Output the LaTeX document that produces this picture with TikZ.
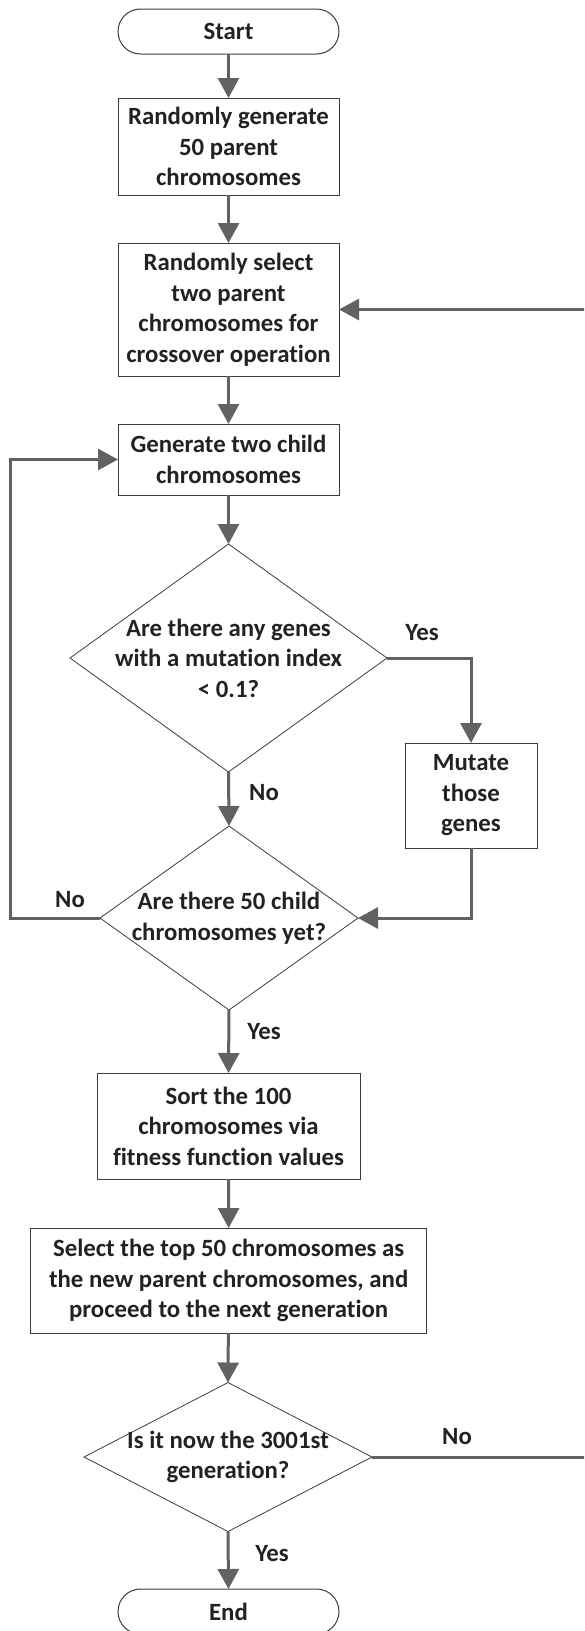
\documentclass[tikz,border=0pt]{standalone}
\usepackage{fontspec}
\setmainfont{Carlito}[Ligatures=NoCommon]
\usetikzlibrary{arrows.meta,shapes.geometric}
\definecolor{flowgray}{RGB}{98,98,98}
\definecolor{inkgray}{RGB}{34,34,34}
\definecolor{edgegray}{RGB}{60,60,60}

\begin{document}
\begin{tikzpicture}[x=1pt,y=-1pt,
  every node/.style={font=\fontsize{24.8}{30.5}\selectfont\bfseries, text=inkgray},
  procbox/.style={draw=edgegray, line width=1pt, align=center, inner sep=0pt, outer sep=0pt},
  termbox/.style={draw=edgegray, line width=1pt, rounded corners=22.5pt,
    minimum width=221pt, minimum height=45pt, inner sep=0pt, outer sep=0pt},
  decision/.style={draw=edgegray, line width=0.8pt, diamond, inner sep=0pt, outer sep=0pt},
  flow/.style={draw=flowgray, line width=3pt, -{Triangle[length=20pt,width=21pt]}},
  lab/.style={inner sep=0pt, align=center}
]
\useasboundingbox (0,0) rectangle (584,1631);
\clip (0,0) rectangle (584,1631);

% main column
\node[termbox] (start) at (228.5,31.5) {Start};
\node[procbox, minimum width=221pt, minimum height=97pt] (init) at (228.5,146.5)
  {Randomly generate\\50 parent\\chromosomes};
\node[procbox, minimum width=221pt, minimum height=133pt] (pick) at (228.5,309.5)
  {Randomly select\\two parent\\chromosomes for\\crossover operation};
\node[procbox, minimum width=221pt, minimum height=71pt] (child) at (228.5,459.5)
  {Generate two child\\chromosomes};
\node[decision, minimum width=317pt, minimum height=228pt] (mut) at (228.5,658) {};
\node[lab] (mutt) at (mut.center) {Are there any genes\\with a mutation index\\< 0.1?};
\node[procbox, minimum width=132pt, minimum height=105pt] (mutate) at (471,795.5)
  {Mutate\\those\\genes};
\node[decision, minimum width=258pt, minimum height=184pt] (enough) at (229,918) {};
\node[lab] (enought) at (enough.center) {Are there 50 child\\chromosomes yet?};
\node[procbox, minimum width=263pt, minimum height=106pt] (sort) at (228.5,1126)
  {Sort the 100\\chromosomes via\\fitness function values};
\node[procbox, minimum width=396pt, minimum height=105pt] (keep) at (228.7,1280.5)
  {Select the top 50 chromosomes as\\the new parent chromosomes, and\\proceed to the next generation};
\node[decision, minimum width=288pt, minimum height=149pt] (last) at (228,1457) {};
\node[lab] (lastt) at (last.center) {Is it now the 3001st\\generation?};
\node[termbox] (end) at (228.5,1611.5) {End};

% bend points of the loops
\coordinate (loopL) at (10,700);
\coordinate (loopR) at (600,900);

% branch labels
\node[lab] (yes1) at (422,633) {Yes};
\node[lab] (no1) at (264,793) {No};
\node[lab] (no2) at (70,900) {No};
\node[lab] (yes2) at (264,1032) {Yes};
\node[lab] (no3) at (457,1437) {No};
\node[lab] (yes3) at (272,1554) {Yes};

% connectors
\draw[flow] (start) -- (init);
\draw[flow] (init) -- (pick);
\draw[flow] (pick) -- (child);
\draw[flow] (child) -- (mut.north);
\draw[flow] (mut.south) -- (enough.north);
\draw[flow] (mut.east) -| (mutate.north);
\draw[flow] (mutate.south) |- (enough.east);
\draw[flow] (enough.west) -| (loopL) |- (child.west);
\draw[flow] (enough.south) -- (sort.north);
\draw[flow] (sort) -- (keep);
\draw[flow] (keep) -- (last.north);
\draw[flow] (last.south) -- (end.north);
\draw[flow] (last.east) -| (loopR) |- (pick.east);
\end{tikzpicture}
\end{document}
